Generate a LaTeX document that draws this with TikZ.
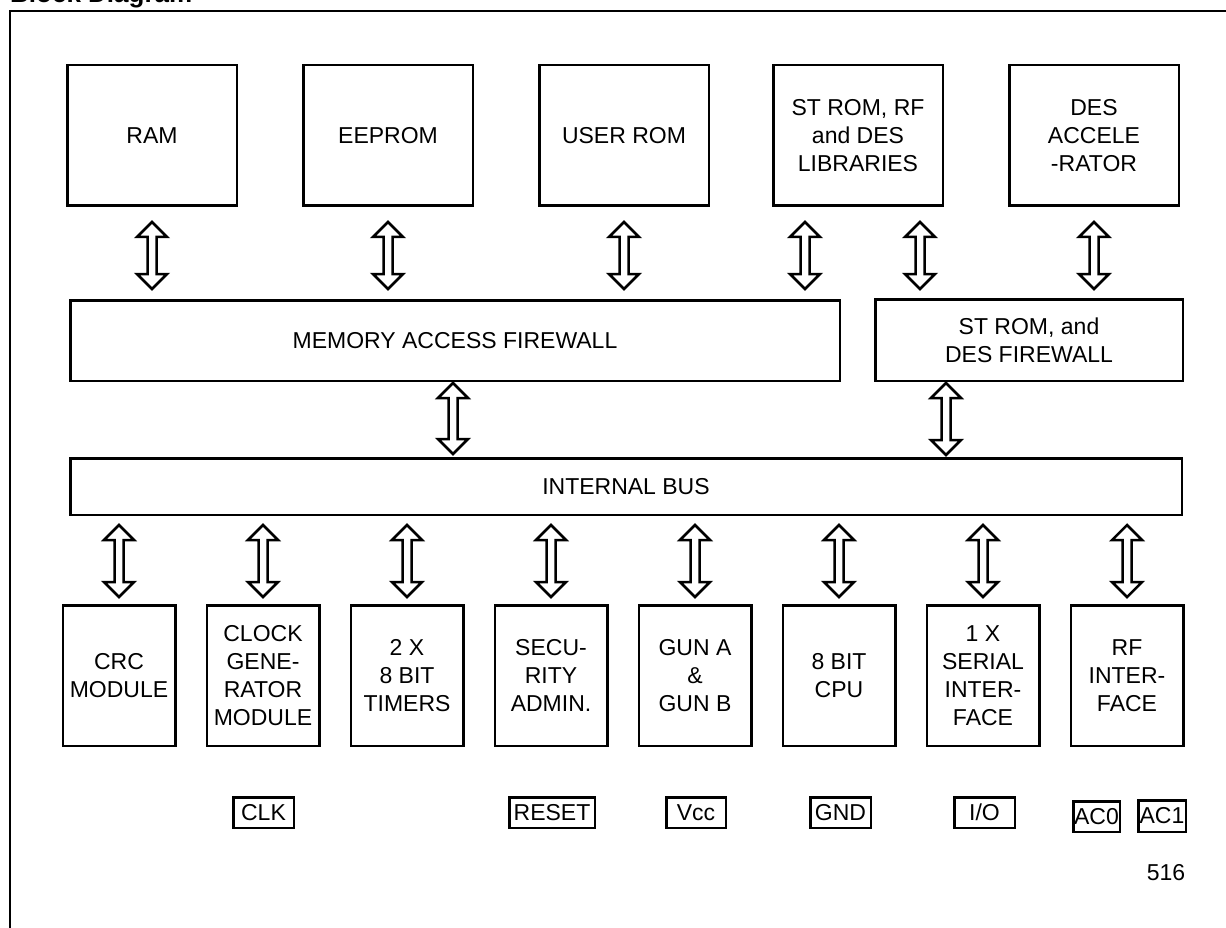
\documentclass[tikz,border=0pt]{standalone}
\usepackage{fontspec}
\setmainfont{Liberation Sans}
\usetikzlibrary{calc}
\newcommand\busarrow[2]{%
  \path[busarr] let \p1=#1, \p2=#2 in
    (\x1,\y1) -- (\x1+15pt,\y1-15pt) -- (\x1+4.5pt,\y1-15pt) --
    (\x1+4.5pt,\y2+15pt) -- (\x1+15pt,\y2+15pt) -- (\x1,\y2) --
    (\x1-15pt,\y2+15pt) -- (\x1-4.5pt,\y2+15pt) -- (\x1-4.5pt,\y1-15pt) --
    (\x1-15pt,\y1-15pt) -- cycle;}
\begin{document}
\begin{tikzpicture}[x=1pt,y=-1pt,
  txt/.style={font=\fontsize{23}{28}\selectfont},
  blk/.style={draw, line width=2.5pt, inner sep=0pt, align=center, txt},
  topblk/.style={blk, minimum width=169.5pt, minimum height=140.5pt},
  botblk/.style={blk, minimum width=112.5pt, minimum height=140.5pt},
  pin/.style={draw, line width=2.5pt, inner sep=0pt, minimum height=30.5pt, txt},
  busarr/.style={draw, line width=2.5pt, line join=miter, fill=white}]
\useasboundingbox (0,0) rectangle (1226,928);

% title and frame
\node[anchor=base west, inner sep=0pt, font=\bfseries\fontsize{26}{30}\selectfont] (title) at (10,3) {Block Diagram};
\draw[line width=1.3pt] (10,928) -- (10,11) -- (1226,11);

% top row
\node[topblk] (ram)   at (152,135.5) {RAM};
\node[topblk] (eep)   at (388,135.5) {EEPROM};
\node[topblk] (urom)  at (624,135.5) {USER ROM};
\node[topblk] (strom) at (858,135.5) {ST ROM, RF\\and DES\\LIBRARIES};
\node[topblk] (des)   at (1094,135.5) {DES\\ACCELE\\-RATOR};

% firewalls
\node[blk, minimum width=769.5pt, minimum height=80.5pt] (maf) at (455,340.5) {MEMORY ACCESS FIREWALL};
\node[blk, minimum width=307.5pt, minimum height=81.5pt] (stf) at (1029,340) {ST ROM, and\\DES FIREWALL};

% internal bus
\node[blk, minimum width=1111.5pt, minimum height=56.5pt] (bus) at (626,486.5) {INTERNAL BUS};

% bottom row
\node[botblk] (crc) at (119,675.5) {CRC\\MODULE};
\node[botblk] (clk) at (263,675.5) {CLOCK\\GENE-\\RATOR\\MODULE};
\node[botblk] (tim) at (407,675.5) {2 X\\8 BIT\\TIMERS};
\node[botblk] (sec) at (551,675.5) {SECU-\\RITY\\ADMIN.};
\node[botblk] (gun) at (695,675.5) {GUN A\\\&\\GUN B};
\node[botblk] (cpu) at (839,675.5) {8 BIT\\CPU};
\node[botblk] (ser) at (983,675.5) {1 X\\SERIAL\\INTER-\\FACE};
\node[botblk] (rf)  at (1127,675.5) {RF\\INTER-\\FACE};

% pins
\node[pin, minimum width=60.5pt] (pclk) at (263.5,812.5) {CLK};
\node[pin, minimum width=85.5pt] (prst) at (552,812.5) {RESET};
\node[pin, minimum width=59.5pt] (pvcc) at (696,812.5) {Vcc};
\node[pin, minimum width=60.5pt] (pgnd) at (840.5,812.5) {GND};
\node[pin, minimum width=60.5pt] (pio)  at (984.5,812.5) {I/O};
\node[pin, minimum width=46.5pt] (pac0) at (1096.5,816.5) {AC0};
\node[pin, minimum width=47.5pt, minimum height=31.5pt] (pac1) at (1162,816) {AC1};

\node[txt, inner sep=0pt] (fignum) at (1166,873) {516};

% arrows: memories to firewalls
\busarrow{($(ram.south)+(0,15)$)}{($(maf.north)+(0,-10)$)}
\busarrow{($(eep.south)+(0,15)$)}{($(maf.north)+(0,-10)$)}
\busarrow{($(urom.south)+(0,15)$)}{($(maf.north)+(0,-10)$)}
\busarrow{($(strom.south)+(-53,15)$)}{($(maf.north)+(0,-10)$)}
\busarrow{($(strom.south)+(62,15)$)}{($(stf.north)+(0,-9)$)}
\busarrow{($(des.south)+(0,15)$)}{($(stf.north)+(0,-9)$)}

% firewalls to bus
\busarrow{($(maf.south)+(-2,1)$)}{($(bus.north)+(0,-3)$)}
\busarrow{($(stf.south)+(-83,1)$)}{($(bus.north)+(0,-2)$)}

% bus to peripherals
\busarrow{($(bus.south -| crc.north)+(0,9)$)}{($(crc.north)+(0,-7)$)}
\busarrow{($(bus.south -| clk.north)+(0,9)$)}{($(clk.north)+(0,-7)$)}
\busarrow{($(bus.south -| tim.north)+(0,9)$)}{($(tim.north)+(0,-7)$)}
\busarrow{($(bus.south -| sec.north)+(0,9)$)}{($(sec.north)+(0,-7)$)}
\busarrow{($(bus.south -| gun.north)+(0,9)$)}{($(gun.north)+(0,-7)$)}
\busarrow{($(bus.south -| cpu.north)+(0,9)$)}{($(cpu.north)+(0,-7)$)}
\busarrow{($(bus.south -| ser.north)+(0,9)$)}{($(ser.north)+(0,-7)$)}
\busarrow{($(bus.south -| rf.north)+(0,9)$)}{($(rf.north)+(0,-7)$)}
\end{tikzpicture}
\end{document}
